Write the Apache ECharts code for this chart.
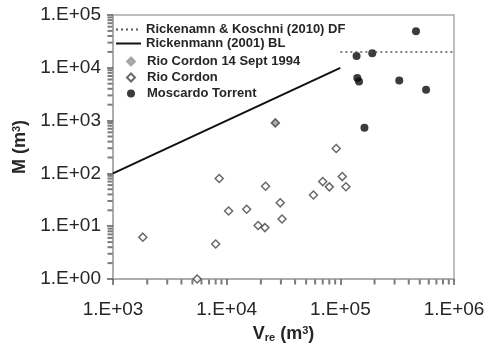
<!DOCTYPE html>
<html>
<head>
<meta charset="utf-8">
<script src="https://cdn.jsdelivr.net/npm/echarts@6/dist/echarts.min.js"></script>
<style>
  html, body { margin: 0; padding: 0; background: #fff; }
  #chart { width: 495px; height: 348px; }
</style>
</head>
<body>
<div id="chart"></div>
<script>
// data (x = V_re m3, y = M m3)
const rickenmannBL = [[1e3, 100], [1e5, 1e4]];
const rickenmannDF = [[1e5, 2e4], [1e6, 2e4]];
const rioCordonSept1994 = [[2.68e4, 905]];
const rioCordon = [
  [1.83e3, 6.2], [5.5e3, 1.0], [8.0e3, 4.6], [8.6e3, 80], [1.04e4, 19.4],
  [1.5e4, 21], [1.89e4, 10.3], [2.17e4, 9.4], [2.2e4, 57], [2.96e4, 27.7],
  [3.07e4, 13.7], [5.8e4, 39], [7.0e4, 70], [8.0e4, 55.6], [9.2e4, 296],
  [1.04e5, 87], [1.12e5, 56]
];
const moscardo = [
  [1.39e5, 1.68e4], [1.91e5, 1.89e4], [4.63e5, 4.9e4], [1.41e5, 6.4e3],
  [1.46e5, 5.5e3], [3.3e5, 5.75e3], [5.68e5, 3.85e3], [1.63e5, 730]
];
const xDecades = [1e3, 1e4, 1e5];
const yDecades = [1e0, 1e1, 1e2, 1e3, 1e4];

const FONT = "'Liberation Sans', Arial, sans-serif";
const AXIS_COLOR = '#a8a8a8';
const TICK_COLOR = '#5a5a5a';
const TEXT_COLOR = '#262626';

// log-spaced minor ticks (2..9 of each decade), drawn as tiny marks on the axes
const xMinor = [];
xDecades.forEach(d => { for (let m = 2; m <= 9; m++) xMinor.push([m * d, 1]); });
const yMinor = [];
yDecades.forEach(d => { for (let m = 2; m <= 9; m++) yMinor.push([1e3, m * d]); });

const expLabel = v => '1.E+' + String(Math.round(Math.log10(v))).padStart(2, '0');

const chart = echarts.init(document.getElementById('chart'), null, { renderer: 'canvas' });

const nameRich = {
  b: { fontFamily: FONT, fontSize: 18, fontWeight: 'bold', color: TEXT_COLOR },
  sub: { fontFamily: FONT, fontSize: 11, fontWeight: 'bold', color: TEXT_COLOR, verticalAlign: 'bottom', padding: [7, 0, 0, 0] },
  sup: { fontFamily: FONT, fontSize: 11, fontWeight: 'bold', color: TEXT_COLOR, verticalAlign: 'top', padding: [0, 0, 7, 0] }
};
const legendText = { fontFamily: FONT, fontSize: 13, fontWeight: 'bold', color: TEXT_COLOR };

const option = {
  backgroundColor: '#fff',
  animation: false,
  textStyle: { fontFamily: FONT },
  grid: {
    left: 113, right: 41, top: 15, bottom: 68,
    show: true, borderColor: AXIS_COLOR, borderWidth: 1.5, backgroundColor: 'transparent'
  },
  legend: [
    {
      // line samples
      orient: 'vertical',
      left: 110, top: 18,
      itemWidth: 25, itemHeight: 8, itemGap: 1,
      textStyle: legendText,
      data: [
        { name: 'Rickenamn & Koschni (2010) DF', itemStyle: { opacity: 0 } },
        { name: 'Rickenmann (2001) BL', itemStyle: { opacity: 0 } }
      ]
    },
    {
      // marker samples
      orient: 'vertical',
      left: 121, top: 50,
      itemWidth: 8, itemHeight: 8, itemGap: 3,
      textStyle: Object.assign({ padding: [0, 0, 0, 7] }, legendText),
      data: [
        { name: 'Rio Cordon 14 Sept 1994', icon: 'diamond', itemStyle: { color: '#9a9a9a', borderColor: '#9a9a9a' } },
        { name: 'Rio Cordon', icon: 'diamond' },
        { name: 'Moscardo Torrent', icon: 'circle' }
      ]
    }
  ],
  xAxis: {
    type: 'log', logBase: 10, min: 1e3, max: 1e6, interval: 1,
    name: '{b|V}{sub|re}{b| (m}{sup|3}{b|)}',
    nameLocation: 'middle', nameGap: 46,
    nameTextStyle: { rich: nameRich },
    axisLine: { lineStyle: { color: AXIS_COLOR, width: 1.5 } },
    axisTick: { show: true, length: 6, lineStyle: { color: TICK_COLOR, width: 1.5 } },
    axisLabel: { fontFamily: FONT, fontSize: 19, color: TEXT_COLOR, margin: 21, formatter: expLabel },
    splitLine: { show: false }
  },
  yAxis: {
    type: 'log', logBase: 10, min: 1, max: 1e5, interval: 1,
    name: '{b|M (m}{sup|3}{b|)}',
    nameLocation: 'middle', nameGap: 70, nameRotate: 90,
    nameTextStyle: { rich: nameRich },
    axisLine: { lineStyle: { color: AXIS_COLOR, width: 1.5 } },
    axisTick: { show: true, length: 6, lineStyle: { color: TICK_COLOR, width: 1.5 } },
    axisLabel: { fontFamily: FONT, fontSize: 19, color: TEXT_COLOR, margin: 12, formatter: expLabel },
    splitLine: { show: false }
  },
  series: [
    {
      name: 'xMinorTicks',
      type: 'scatter',
      silent: true,
      clip: false,
      data: xMinor,
      symbol: 'rect',
      symbolSize: [2, 5],
      symbolOffset: [0, 3],
      itemStyle: { color: TICK_COLOR },
      z: 5
    },
    {
      name: 'yMinorTicks',
      type: 'scatter',
      silent: true,
      clip: false,
      data: yMinor,
      symbol: 'rect',
      symbolSize: [5, 2],
      symbolOffset: [-3, 0],
      itemStyle: { color: TICK_COLOR },
      z: 5
    },
    {
      name: 'Rickenamn & Koschni (2010) DF',
      type: 'line',
      data: rickenmannDF,
      symbol: 'none',
      lineStyle: { color: '#555', width: 1.5, type: [2, 3] },
      itemStyle: { color: '#555' }
    },
    {
      name: 'Rickenmann (2001) BL',
      type: 'line',
      data: rickenmannBL,
      symbol: 'none',
      lineStyle: { color: '#111', width: 2 },
      itemStyle: { color: '#111' }
    },
    {
      name: 'Rio Cordon 14 Sept 1994',
      type: 'scatter',
      data: rioCordonSept1994,
      symbol: 'diamond',
      symbolSize: 8,
      itemStyle: { color: '#9a9a9a', borderColor: '#444', borderWidth: 1.5 }
    },
    {
      name: 'Rio Cordon',
      type: 'scatter',
      data: rioCordon,
      symbol: 'diamond',
      symbolSize: 8,
      itemStyle: { color: '#fff', borderColor: '#444', borderWidth: 1.5 }
    },
    {
      name: 'Moscardo Torrent',
      type: 'scatter',
      data: moscardo,
      symbol: 'circle',
      symbolSize: 8,
      itemStyle: { color: '#0a0a0a' }
    }
  ]
};

chart.setOption(option);
</script>
</body>
</html>
